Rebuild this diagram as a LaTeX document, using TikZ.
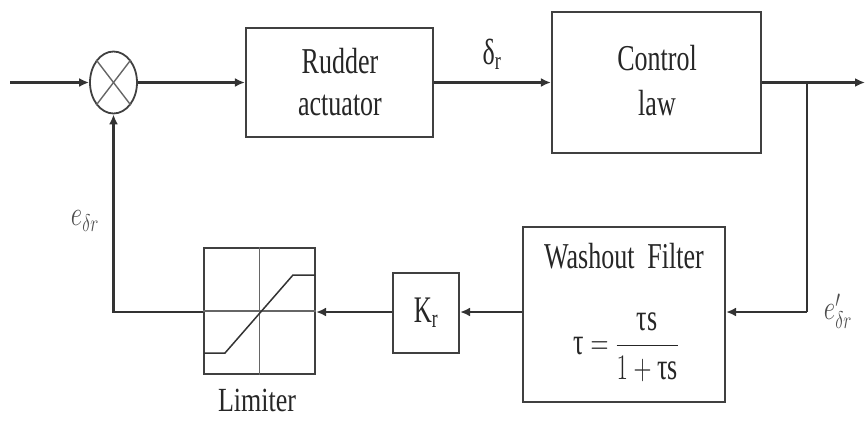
\documentclass[tikz,border=0pt]{standalone}
\usepackage{fontspec}
\setmainfont{Liberation Serif}
\usepackage{graphicx}
\usetikzlibrary{arrows.meta,shapes.geometric,calc}
\newcommand{\vst}[2][1.4]{\scalebox{1}[#1]{#2}}
\begin{document}
\begin{tikzpicture}[x=1pt,y=-1pt,
  box/.style={draw=black!75,line width=2.2pt,inner sep=0pt,fill=white},
  lbl/.style={font=\fontsize{26}{30}\selectfont,text=black!85,inner sep=0pt,anchor=base},
  conn/.style={draw=black!80,line width=2.2pt},
  arr/.style={conn,-{Latex[length=10pt,width=9pt]}},
  thinl/.style={draw=black!60,line width=1.4pt}]
\useasboundingbox (0,0) rectangle (865,421);

% summing junction
\node[ellipse,draw=black!75,line width=1.8pt,minimum width=47pt,minimum height=62pt,inner sep=0pt] (sum) at (113.5,82.5) {};
\draw[thinl] (sum.north west) -- (sum.south east);
\draw[thinl] (sum.north east) -- (sum.south west);

% blocks
\node[box,minimum width=187pt,minimum height=109pt] (rud) at (339.5,82.5) {};
\node[lbl] (rudt1) at (340,73) {\vst{Rudder}};
\node[lbl] (rudt2) at (340,115) {\vst{actuator}};

\node[box,minimum width=209pt,minimum height=141pt] (ctl) at (656.5,82.5) {};
\node[lbl] (ctlt1) at (657,70) {\vst{Control}};
\node[lbl] (ctlt2) at (657,115) {\vst{law}};

\node[box,minimum width=202pt,minimum height=175pt] (wash) at (624,314.5) {};
\node[lbl] (washt) at (624,268) {\vst{Washout\ \ Filter}};
\node[lbl,anchor=center] (washf) at (626,347) {\vst[1.45]{$\displaystyle \mbox{τ} = \frac{\mbox{τs}}{1+\mbox{τs}}$}};

\node[box,minimum width=66pt,minimum height=80pt] (kr) at (426,313) {};
\node[lbl,font=\fontsize{25}{28}\selectfont] (krt) at (426,322) {\vst[1.5]{K\textsubscript{r}}};

\node[box,minimum width=111pt,minimum height=126pt] (lim) at (259.5,311) {};
\draw[thinl] (lim.north) -- (lim.south);
\draw[thinl] (lim.west) -- (lim.east);
\draw[conn,line width=1.5pt] ($(lim.center)+(-55.5,42)$) -- ($(lim.center)+(-34.5,42)$)
   -- ($(lim.center)+(33.5,-36)$) -- ($(lim.center)+(55.5,-36)$);
\node[lbl] (limt) at (257,411) {\vst[1.3]{Limiter}};

% signal labels
\node[lbl] (dr) at (492,64) {\vst{δ\textsubscript{r}}};
\node[lbl,anchor=center,font=\fontsize{24}{26}\selectfont,text=black!70] (fbl) at (85,221) {\vst{$e_{\delta r}$}};
\node[lbl,anchor=center,font=\fontsize{24}{26}\selectfont,text=black!70] (outl) at (838,311) {\vst{$e'_{\delta r}$}};

% connectors
\coordinate (in) at (10,82.5);
\coordinate (out) at (865,82.5);
\coordinate (br) at (807,82.5);
\coordinate (brd) at (807,312);
\draw[arr] (in) -- (sum.west);
\draw[arr] (sum.east) -- (rud.west);
\draw[arr] (rud.east) -- (ctl.west);
\draw[arr] (ctl.east) -- (out);
\draw[conn] (br) -- (brd);
\draw[arr] (brd) -- (brd -| wash.east);
\draw[arr] (wash.west |- brd) -- (kr.east |- brd);
\draw[arr] (kr.west |- brd) -- (lim.east |- brd);
\draw[arr] (lim.west |- brd) -| (sum.south);
\end{tikzpicture}
\end{document}
